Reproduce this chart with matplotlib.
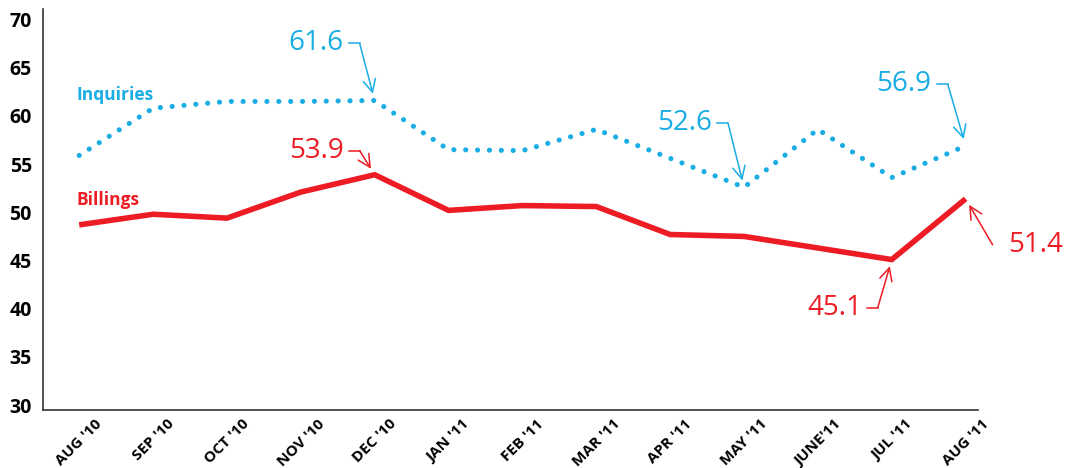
import matplotlib
matplotlib.use('Agg')
import matplotlib.pyplot as plt
from matplotlib.transforms import offset_copy
import numpy as np

blue = '#1AADE4'
red = '#ED1C24'

months = ["AUG '10", "SEP '10", "OCT '10", "NOV '10", "DEC '10", "JAN '11", "FEB '11",
          "MAR '11", "APR '11", "MAY '11", "JUNE'11", "JUL '11", "AUG '11"]
inquiries = [55.9, 60.8, 61.5, 61.5, 61.6, 56.5, 56.4, 58.6, 55.6, 52.6, 58.6, 53.6, 56.9]
billings = [48.7, 49.8, 49.4, 52.1, 53.9, 50.2, 50.7, 50.6, 47.7, 47.5, 46.3, 45.1, 51.4]
yticks = [30, 35, 40, 45, 50, 55, 60, 65, 70]

# (series, month index, label, knee offset px, text side)
callouts = [
    ('inq', 4, '61.6', (-15, 57), 'left'),
    ('bil', 4, '53.9', (-15, 24), 'left'),
    ('inq', 9, '52.6', (-16, 64), 'left'),
    ('inq', 12, '56.9', (-18, 62), 'left'),
    ('bil', 12, '51.4', (27, -46), 'right'),
    ('bil', 11, '45.1', (-14, -48), 'left'),
]

plt.rcParams['font.family'] = ['Open Sans', 'DejaVu Sans']

fig = plt.figure(figsize=(10.7, 4.68), dpi=100)
ax = fig.add_axes([0.0402, 0.124, 0.874, 0.857])

x = np.arange(len(months))
ax.plot(x, billings, color=red, lw=4.0, solid_joinstyle='miter', solid_capstyle='butt', zorder=3)
ax.plot(x, inquiries, color=blue, lw=3.7, linestyle=(0, (0.01, 2.3)),
        dash_capstyle='round', zorder=3)

ax.set_xlim(-0.49, 12.17)
ax.set_ylim(29.5, 71.1)
ax.set_yticks(yticks)
ax.set_yticklabels([str(v) for v in yticks], fontsize=14, fontweight='bold')
ax.set_xticks(x)
ax.set_xticklabels(months, rotation=45, ha='center', fontsize=11, fontweight='bold')
ax.tick_params(axis='both', length=0)
ax.tick_params(axis='y', pad=8)
ax.tick_params(axis='x', pad=5)
for s in ['top', 'right']:
    ax.spines[s].set_visible(False)
for s in ['left', 'bottom']:
    ax.spines[s].set_color('#333333')
    ax.spines[s].set_linewidth(1.2)

ax.text(0.036, 0.786, 'Inquiries', transform=ax.transAxes, color=blue,
        fontsize=12.5, fontweight='bold', va='center')
ax.text(0.036, 0.524, 'Billings', transform=ax.transAxes, color=red,
        fontsize=12.5, fontweight='bold', va='center')

for series, i, label, (kx, ky), side in callouts:
    vals = inquiries if series == 'inq' else billings
    col = blue if series == 'inq' else red
    y = vals[i]
    # arrow from the knee to the data point
    ax.annotate('', xy=(i, y), xytext=(kx, ky), textcoords='offset pixels',
                arrowprops=dict(arrowstyle='->,head_length=0.9,head_width=0.45',
                                color=col, lw=1.1, shrinkA=0, shrinkB=5))
    if side == 'left':
        hx, tx, ha = kx - 11, kx - 16, 'right'
    else:
        hx, tx, ha = kx + 11, kx + 16, 'left'
    # short horizontal stroke next to the value
    p1 = offset_copy(ax.transData, fig=fig, x=kx, y=ky, units='dots').transform((i, y))
    p2 = offset_copy(ax.transData, fig=fig, x=hx, y=ky, units='dots').transform((i, y))
    ax.plot([p1[0], p2[0]], [p1[1], p2[1]], color=col, lw=1.1, transform=None)
    ax.annotate(label, xy=(i, y), xytext=(tx, ky), textcoords='offset pixels',
                color=col, fontsize=20, ha=ha, va='center')

fig.savefig('out.png', dpi=100)
